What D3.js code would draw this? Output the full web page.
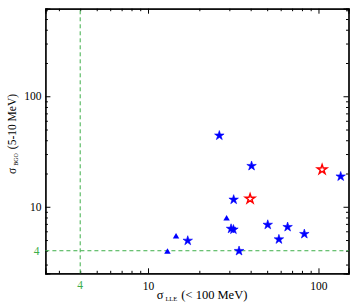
<!DOCTYPE html>
<html>
<head>
<meta charset="utf-8">
<script src="https://cdn.jsdelivr.net/npm/d3@7"></script>
<style>
  body { margin: 0; background: #fff; }
  svg text { font-family: "Liberation Serif", "DejaVu Serif", serif; }
</style>
</head>
<body>
<div id="container"></div>
<script>
// blue filled stars
var starX = [26.2, 40.5, 31.8, 30.7, 31.7, 17.1, 34.2, 135, 50.4, 65.9, 58.6, 82.6];
var starY = [44.1, 23.4, 11.6, 6.32, 6.22, 4.93, 3.98, 18.8, 6.87, 6.56, 5.07, 5.67];
// blue triangles
var triX = [28.9, 14.6, 13.0];
var triY = [7.79, 5.36, 3.90];
// red open stars
var redX = [39.7, 105];
var redY = [11.8, 21.7];

var xMajor = [10, 100];
var yMajor = [10, 100];
var xMinor = [3, 4, 5, 6, 7, 8, 9, 20, 30, 40, 50, 60, 70, 80, 90];
var yMinor = [3, 4, 5, 6, 7, 8, 9, 20, 30, 40, 50, 60, 70, 80, 90, 200, 300, 400, 500, 600];
var cut = 4;

var width = 354, height = 303;
var margin = {top: 8.7, right: 5.5, bottom: 29.7, left: 45.4};

var svg = d3.select("#container").append("svg")
    .attr("width", width)
    .attr("height", height);

var x = d3.scaleLog().domain([2.5, 150]).range([margin.left, width - margin.right]);
var y = d3.scaleLog().domain([2.5, 620]).range([height - margin.bottom, margin.top]);

var green = "#3dae49";

// minor ticks, all four sides
svg.append("g").attr("transform", "translate(0," + y.range()[0] + ")")
    .call(d3.axisBottom(x).tickValues(xMinor).tickSize(-2.5).tickFormat(""));
svg.append("g").attr("transform", "translate(0," + y.range()[1] + ")")
    .call(d3.axisTop(x).tickValues(xMinor).tickSize(-2.5).tickFormat(""));
svg.append("g").attr("transform", "translate(" + x.range()[0] + ",0)")
    .call(d3.axisLeft(y).tickValues(yMinor).tickSize(-2.5).tickFormat(""));
svg.append("g").attr("transform", "translate(" + x.range()[1] + ",0)")
    .call(d3.axisRight(y).tickValues(yMinor).tickSize(-2.5).tickFormat(""));

// major ticks
svg.append("g").attr("class", "xaxis").attr("transform", "translate(0," + y.range()[0] + ")")
    .call(d3.axisBottom(x).tickValues(xMajor).tickSize(-5).tickPadding(9).tickFormat(d3.format("d")));
svg.append("g").attr("transform", "translate(0," + y.range()[1] + ")")
    .call(d3.axisTop(x).tickValues(xMajor).tickSize(-5).tickFormat(""));
svg.append("g").attr("class", "yaxis").attr("transform", "translate(" + x.range()[0] + ",0)")
    .call(d3.axisLeft(y).tickValues(yMajor).tickSize(-5).tickPadding(4).tickFormat(d3.format("d")));
svg.append("g").attr("transform", "translate(" + x.range()[1] + ",0)")
    .call(d3.axisRight(y).tickValues(yMajor).tickSize(-5).tickFormat(""));

svg.selectAll(".domain").attr("stroke", "#000").attr("stroke-width", 1.2);
svg.selectAll(".tick line").attr("stroke", "#000");
svg.selectAll(".xaxis text, .yaxis text")
    .attr("font-size", 11.5).attr("fill", "#000")
    .attr("font-family", "Liberation Serif, DejaVu Serif, serif");

// green threshold labels
svg.append("text")
    .attr("x", x(cut)).attr("y", y.range()[0] + 15.5)
    .attr("text-anchor", "middle").attr("font-size", 11.5).attr("fill", green)
    .text(cut);
svg.append("text")
    .attr("x", x.range()[0] - 6).attr("y", y(cut) + 3.8)
    .attr("text-anchor", "end").attr("font-size", 11.5).attr("fill", green)
    .text(cut);

// threshold dashed lines
svg.append("line")
    .attr("x1", x(cut)).attr("x2", x(cut))
    .attr("y1", y.range()[0]).attr("y2", y.range()[1])
    .attr("stroke", green).attr("stroke-width", 1).attr("stroke-dasharray", "4,3");
svg.append("line")
    .attr("x1", x.range()[0]).attr("x2", x.range()[1])
    .attr("y1", y(cut)).attr("y2", y(cut))
    .attr("stroke", green).attr("stroke-width", 1).attr("stroke-dasharray", "4,3");

// points
var stars = starX.map(function(d, i) { return {x: d, y: starY[i]}; });
var tris = triX.map(function(d, i) { return {x: d, y: triY[i]}; });
var reds = redX.map(function(d, i) { return {x: d, y: redY[i]}; });

svg.append("g").selectAll("path")
    .data(stars)
    .enter().append("path")
    .attr("transform", function(d) { return "translate(" + x(d.x) + "," + y(d.y) + ")"; })
    .attr("d", d3.symbol().type(d3.symbolStar).size(28))
    .attr("fill", "#0000ff")
    .attr("stroke", "#0000ff").attr("stroke-width", 0.6);

svg.append("g").selectAll("path")
    .data(tris)
    .enter().append("path")
    .attr("transform", function(d) { return "translate(" + x(d.x) + "," + y(d.y) + ")"; })
    .attr("d", d3.symbol().type(d3.symbolTriangle).size(18))
    .attr("fill", "#0000ff");

svg.append("g").selectAll("path")
    .data(reds)
    .enter().append("path")
    .attr("transform", function(d) { return "translate(" + x(d.x) + "," + y(d.y) + ")"; })
    .attr("d", d3.symbol().type(d3.symbolStar).size(28))
    .attr("fill", "none")
    .attr("stroke", "#ff0000").attr("stroke-width", 1.5);

// axis titles
var xt = svg.append("text")
    .attr("x", 202).attr("y", 299)
    .attr("text-anchor", "middle").attr("font-size", 12.5);
xt.append("tspan").text("σ");
xt.append("tspan").attr("font-size", 6.5).attr("dx", 2).attr("dy", 1.5).text("LLE");
xt.append("tspan").attr("dy", -1.5).attr("dx", 4).text("(< 100 MeV)");

var yt = svg.append("text")
    .attr("transform", "translate(16,134) rotate(-90)")
    .attr("text-anchor", "middle").attr("font-size", 11.5);
yt.append("tspan").text("σ");
yt.append("tspan").attr("font-size", 6).attr("dx", 2).attr("dy", 1.5).text("BGO");
yt.append("tspan").attr("dy", -1.5).attr("dx", 4).text("(5-10 MeV)");
</script>
</body>
</html>
